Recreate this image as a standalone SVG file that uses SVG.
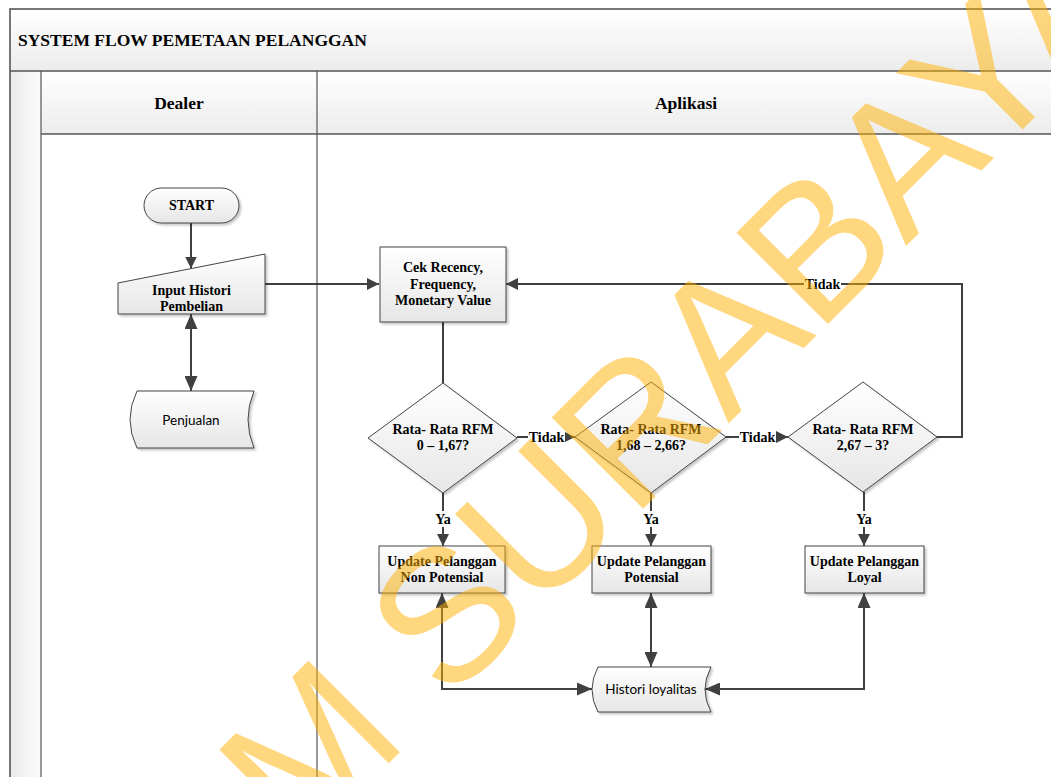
<svg xmlns="http://www.w3.org/2000/svg" width="1051" height="777" viewBox="0 0 1051 777">
  <defs>
    <linearGradient id="nodeFill" x1="0" y1="0" x2="0" y2="1">
      <stop offset="0" stop-color="#ffffff"/>
      <stop offset="1" stop-color="#e6e6e6"/>
    </linearGradient>
    <linearGradient id="bandFill" x1="0" y1="0" x2="0" y2="1">
      <stop offset="0" stop-color="#ffffff"/>
      <stop offset="1" stop-color="#ececec"/>
    </linearGradient>
    <linearGradient id="stripFill" x1="0" y1="0" x2="1" y2="0">
      <stop offset="0" stop-color="#ebebeb"/>
      <stop offset="1" stop-color="#fbfbfb"/>
    </linearGradient>
    <filter id="shadow" x="-10%" y="-10%" width="130%" height="130%">
      <feDropShadow dx="2" dy="2" stdDeviation="1.2" flood-color="#000" flood-opacity="0.22"/>
    </filter>
    <marker id="arrow" viewBox="0 0 12 12" refX="12" refY="6" markerWidth="12" markerHeight="12" markerUnits="userSpaceOnUse" orient="auto-start-reverse">
      <path d="M0,0 L12,6 L0,12 Z" fill="#404040"/>
    </marker>
    <marker id="arrowL" viewBox="0 0 15 13" refX="15" refY="6.5" markerWidth="15" markerHeight="13" markerUnits="userSpaceOnUse" orient="auto-start-reverse">
      <path d="M0,0 L15,6.5 L0,13 Z" fill="#404040"/>
    </marker>
  </defs>
  <style>
    .frame { fill: none; stroke: #555; stroke-width: 1.6; }
    .lane { fill: none; stroke: #555; stroke-width: 1.2; }
    .shape { fill: url(#nodeFill); stroke: #444; stroke-width: 1; filter: url(#shadow); }
    .conn { fill: none; stroke: #404040; stroke-width: 2; }
    .t { font-family: "Liberation Serif", "Times New Roman", serif; font-weight: bold; font-size: 14px; fill: #000; text-anchor: middle; }
    .hd { font-family: "Liberation Serif", "Times New Roman", serif; font-weight: bold; font-size: 17.5px; fill: #000; }
    .s { font-family: Lato, "Liberation Sans", sans-serif; font-size: 13.5px; fill: #000; text-anchor: middle; }
    .lblbg { fill: #ffffff; }
  </style>

  <rect width="1051" height="777" fill="#ffffff"/>

  <!-- pool and swimlanes -->
  <g id="pool">
    <rect x="10" y="9" width="1100" height="62" fill="url(#bandFill)"/>
    <rect x="10" y="71" width="31" height="720" fill="url(#stripFill)"/>
    <rect x="41" y="71" width="1070" height="63" fill="url(#bandFill)"/>
    <rect class="frame" x="10" y="9" width="1100" height="800"/>
    <line class="frame" x1="10" y1="71" x2="1060" y2="71"/>
    <line class="frame" x1="41" y1="134" x2="1060" y2="134"/>
    <line class="lane" x1="41" y1="71" x2="41" y2="790"/>
    <line class="lane" x1="317" y1="71" x2="317" y2="790"/>
    <text class="hd" x="18" y="46">SYSTEM FLOW PEMETAAN PELANGGAN</text>
    <text class="hd" x="179" y="109" text-anchor="middle">Dealer</text>
    <text class="hd" x="686" y="109" text-anchor="middle">Aplikasi</text>
  </g>

  <!-- connectors -->
  <g id="connectors">
    <path class="conn" d="M191,223 V268.5" marker-end="url(#arrow)"/>
    <path class="conn" d="M191,314 V391" marker-start="url(#arrowL)" marker-end="url(#arrowL)"/>
    <path class="conn" d="M265,284 H379" marker-end="url(#arrow)"/>
    <path class="conn" d="M443,322 V383"/>
    <path class="conn" d="M517,437 H575" marker-end="url(#arrow)"/>
    <path class="conn" d="M726,437 H788" marker-end="url(#arrow)"/>
    <path class="conn" d="M937,437 H962 V284 H506" marker-end="url(#arrow)"/>
    <path class="conn" d="M443,493 V546" marker-end="url(#arrow)"/>
    <path class="conn" d="M651,493 V546" marker-end="url(#arrow)"/>
    <path class="conn" d="M864,492 V546" marker-end="url(#arrow)"/>
    <path class="conn" d="M442,593 V689 H592" marker-start="url(#arrowL)" marker-end="url(#arrowL)"/>
    <path class="conn" d="M651,593 V667" marker-start="url(#arrowL)" marker-end="url(#arrowL)"/>
    <path class="conn" d="M864,593 V689 H705" marker-start="url(#arrowL)" marker-end="url(#arrowL)"/>

    <rect class="lblbg" x="528" y="429" width="37" height="16"/>
    <text class="t" x="546.5" y="442">Tidak</text>
    <rect class="lblbg" x="739" y="429" width="37" height="16"/>
    <text class="t" x="757.5" y="442">Tidak</text>
    <rect class="lblbg" x="804" y="276" width="37" height="16"/>
    <text class="t" x="822.5" y="289">Tidak</text>
    <rect class="lblbg" x="433" y="511" width="20" height="16"/>
    <text class="t" x="443" y="524">Ya</text>
    <rect class="lblbg" x="641" y="511" width="20" height="16"/>
    <text class="t" x="651" y="524">Ya</text>
    <rect class="lblbg" x="854" y="511" width="20" height="16"/>
    <text class="t" x="864" y="524">Ya</text>
  </g>

  <!-- nodes -->
  <g id="start">
    <rect class="shape" x="144" y="188" width="95" height="35" rx="17.5" ry="17.5"/>
    <text class="t" x="191.5" y="210">START</text>
  </g>
  <g id="input-histori">
    <path class="shape" d="M118,283 L265,254 L265,314 L118,314 Z"/>
    <text class="t" x="191.5" y="295">Input Histori</text>
    <text class="t" x="191.5" y="311">Pembelian</text>
  </g>
  <g id="penjualan">
    <path class="shape" d="M137,391 L254,391 Q242,419.5 254,448 L137,448 Q123,419.5 137,391 Z"/>
    <text class="s" x="191" y="425">Penjualan</text>
  </g>
  <g id="cek-rfm">
    <rect class="shape" x="380" y="247" width="126" height="75"/>
    <text class="t" x="443" y="272">Cek Recency,</text>
    <text class="t" x="443" y="289">Frequency,</text>
    <text class="t" x="443" y="305">Monetary Value</text>
  </g>
  <g id="cek-non-potensial">
    <path class="shape" d="M443,383 L517,438 L443,493 L368,438 Z"/>
    <text class="t" x="443" y="434">Rata- Rata RFM</text>
    <text class="t" x="443" y="450">0 – 1,67?</text>
  </g>
  <g id="cek-potensial">
    <path class="shape" d="M651,382 L726,437 L651,493 L575,437 Z"/>
    <text class="t" x="651" y="434">Rata- Rata RFM</text>
    <text class="t" x="651" y="450">1,68 – 2,66?</text>
  </g>
  <g id="cek-loyal">
    <path class="shape" d="M863,382 L937,437 L863,492 L788,437 Z"/>
    <text class="t" x="863" y="434">Rata- Rata RFM</text>
    <text class="t" x="863" y="450">2,67 – 3?</text>
  </g>
  <g id="update-non-potensial">
    <rect class="shape" x="379" y="546" width="126" height="47"/>
    <text class="t" x="442" y="566">Update Pelanggan</text>
    <text class="t" x="442" y="582">Non Potensial</text>
  </g>
  <g id="update-potensial">
    <rect class="shape" x="592" y="546" width="119" height="47"/>
    <text class="t" x="651.5" y="566">Update Pelanggan</text>
    <text class="t" x="651.5" y="582">Potensial</text>
  </g>
  <g id="update-loyal">
    <rect class="shape" x="805" y="546" width="119" height="47"/>
    <text class="t" x="864.5" y="566">Update Pelanggan</text>
    <text class="t" x="864.5" y="582">Loyal</text>
  </g>
  <g id="histori-loyalitas">
    <path class="shape" d="M598,667 L711,667 Q699,689.5 711,712 L598,712 Q586,689.5 598,667 Z"/>
    <text class="s" x="651" y="694">Histori loyalitas</text>
  </g>

  <!-- watermark -->
  <text x="300" y="852" transform="rotate(-45 300 852)" font-family="'Liberation Sans', Arial, sans-serif" font-size="188" fill="#FFB000" fill-opacity="0.5">M SURABAYA</text>
</svg>
